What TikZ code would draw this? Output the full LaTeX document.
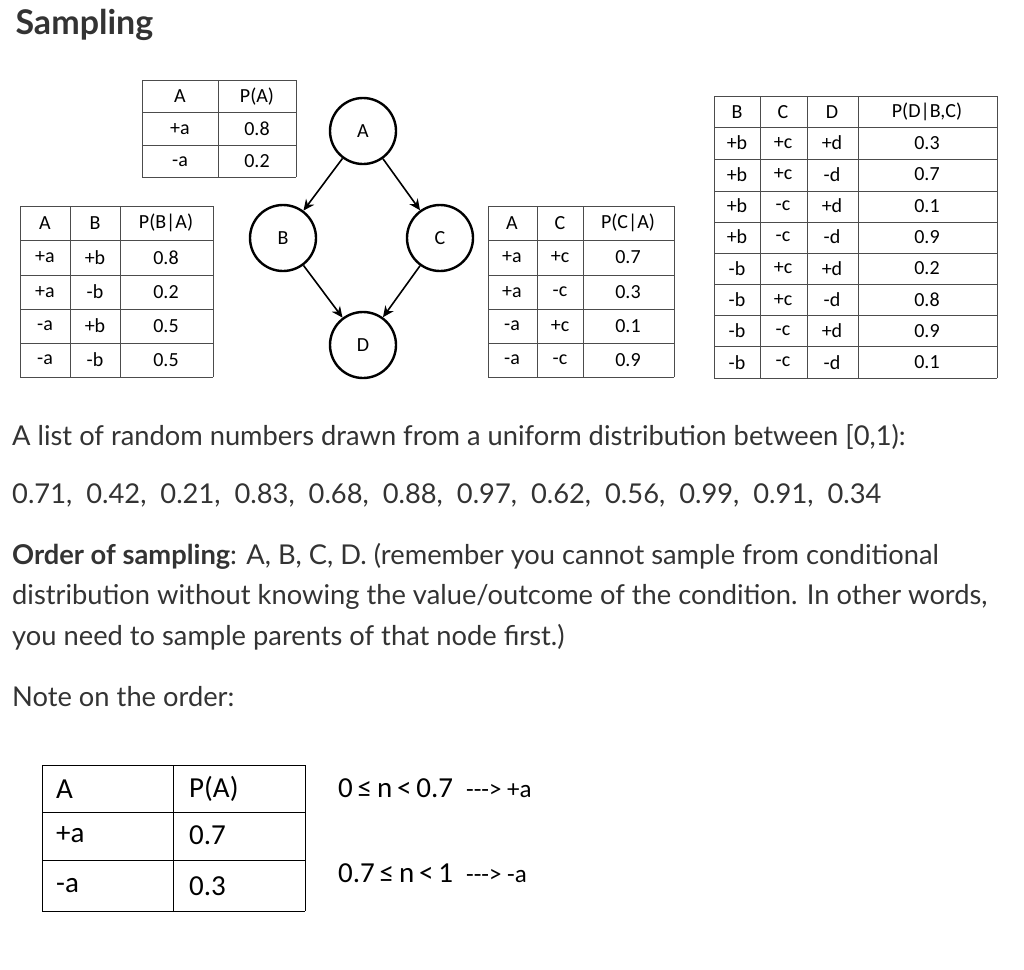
\documentclass[tikz,border=0pt]{standalone}
\usepackage{fontspec}
\setmainfont{Lato}
\newfontfamily\tabfont{Carlito}
\usetikzlibrary{arrows.meta}
\tikzset{
  cell/.style={font=\tabfont\fontsize{20}{24}\selectfont, inner sep=0pt},
  bigcell/.style={font=\tabfont\fontsize{29}{33}\selectfont, inner sep=0pt, anchor=west},
  varnode/.style={circle, draw, line width=2.4pt, minimum size=66pt, font=\tabfont\fontsize{20}{24}\selectfont},
  edge/.style={-{Stealth[length=11pt,width=10pt]}, line width=1.6pt},
  body/.style={anchor=west, font=\fontsize{27.3}{31}\selectfont, inner sep=0pt, text=black!80}
}
\begin{document}
\begin{tikzpicture}[x=1pt,y=-1pt]
    \useasboundingbox (0,0) rectangle (1024,969);

    \node[anchor=west, font=\bfseries\fontsize{34}{37}\selectfont, text=black!80] (title) at (12,25) {Sampling};

    % P(A)
    \foreach \x in {142,218,296} \draw[black!70] (\x,80) -- (\x,177);
    \foreach \y in {80,112,145,177} \draw[black!70] (142,\y) -- (296,\y);
    \foreach \r/\a [count=\i] in {A/P(A),+a/0.8,-a/0.2} \node[cell] at (180,64+32.5*\i) {\r} node[cell] at (257,64+32.5*\i) {\a};

    % P(B|A)
    \foreach \x in {20,70,120,213} \draw[black!70] (\x,206) -- (\x,377);
    \foreach \y in {206,240,275,309,343,377} \draw[black!70] (20,\y) -- (213,\y);
    \foreach \a/\b/\p [count=\i] in {A/B/P(B|A),+a/+b/0.8,+a/-b/0.2,-a/+b/0.5,-a/-b/0.5}
        \node[cell] at (45,189+34.2*\i) {\a} node[cell] at (95,189+34.2*\i) {\b} node[cell] at (166,189+34.2*\i) {\p};

    % P(C|A)
    \foreach \x in {488,537,583,674} \draw[black!70] (\x,206) -- (\x,377);
    \foreach \y in {206,240,275,309,343,377} \draw[black!70] (488,\y) -- (674,\y);
    \foreach \a/\c/\p [count=\i] in {A/C/P(C|A),+a/+c/0.7,+a/-c/0.3,-a/+c/0.1,-a/-c/0.9}
        \node[cell] at (512,189+34.2*\i) {\a} node[cell] at (560,189+34.2*\i) {\c} node[cell] at (628,189+34.2*\i) {\p};

    % P(D|B,C)
    \foreach \x in {714,760,807,858,997} \draw[black!70] (\x,96) -- (\x,378);
    \foreach \y in {96,127,159,191,222,253,284,315,346,378} \draw[black!70] (714,\y) -- (997,\y);
    \foreach \b/\c/\d/\p [count=\i] in {B/C/D/{P(D|B,C)},+b/+c/+d/0.3,+b/+c/-d/0.7,+b/-c/+d/0.1,+b/-c/-d/0.9,-b/+c/+d/0.2,-b/+c/-d/0.8,-b/-c/+d/0.9,-b/-c/-d/0.1}
        \node[cell] at (737,80.5+31.3*\i) {\b} node[cell] at (783,80.5+31.3*\i) {\c} node[cell] at (832,80.5+31.3*\i) {\d} node[cell] at (927,80.5+31.3*\i) {\p};

    % network
    \node[varnode] (A) at (363,131) {A};
    \node[varnode] (B) at (283,238) {B};
    \node[varnode] (C) at (440,238) {C};
    \node[varnode] (D) at (363,345) {D};
    \draw[edge] (A) -- (B);
    \draw[edge] (A) -- (C);
    \draw[edge] (B) -- (D);
    \draw[edge] (C) -- (D);

    % text
    \node[body] (list) at (12,437) {A list of random numbers drawn from a uniform distribution between [0,1):};
    \node[body] (nums) at (12,495) {0.71,\ \ 0.42,\ \ 0.21,\ \ 0.83,\ \ 0.68,\ \ 0.88,\ \ 0.97,\ \ 0.62,\ \ 0.56,\ \ 0.99,\ \ 0.91,\ \ 0.34};
    \node[body] (ord1) at (12,556) {\textbf{Order of sampling}: A, B, C, D. (remember you cannot sample from conditional};
    \node[body] (ord2) at (12,597) {distribution without knowing the value/outcome of the condition. In other words,};
    \node[body] (ord3) at (12,637) {you need to sample parents of that node first.)};
    \node[body] (note) at (12,697) {Note on the order:};

    % bottom P(A)
    \foreach \x in {42,173,305} \draw[line width=1pt] (\x,765) -- (\x,911);
    \foreach \y in {765,812,860,911} \draw[line width=1pt] (42,\y) -- (305,\y);
    \foreach \a/\p/\y in {A/P(A)/789,+a/0.7/835,-a/0.3/886}
        \node[bigcell] at (56,\y) {\a} node[bigcell] at (189,\y) {\p};

    \node[bigcell] (r1) at (338,788) {0\,≤\,n\,<\,0.7\ \ {\fontsize{25}{28}\selectfont --->\ +a}};
    \node[bigcell] (r2) at (338,873) {0.7\,≤\,n\,<\,1\ \ {\fontsize{25}{28}\selectfont --->\ -a}};
\end{tikzpicture}
\end{document}
